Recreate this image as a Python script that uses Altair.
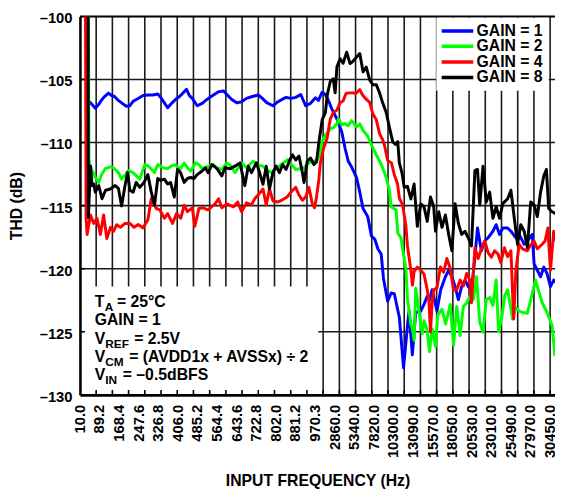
import altair as alt
import pandas as pd

FONT = "Liberation Sans"

SERIES = ["GAIN = 1", "GAIN = 2", "GAIN = 4", "GAIN = 8"]
COLORS = ["#0000ff", "#00ff00", "#ff0000", "#000000"]

# x-axis tick labels (Hz), spread evenly over the 29 grid columns
X_LABELS = ["10.0", "89.2", "168.4", "247.6", "326.8", "406.0", "485.2", "564.4",
            "643.6", "722.8", "802.0", "881.2", "970.3", "2860.0", "5340.0", "7820.0",
            "10300.0", "13090.0", "15570.0", "18050.0", "20530.0", "23010.0",
            "25490.0", "27970.0", "30450.0"]
N_COLS = 29
GRID_X = list(range(1, N_COLS + 1))
GRID_Y = [-105, -110, -115, -120, -125]
Y_TICKS = [-130, -125, -120, -115, -110, -105, -100]
X_TITLE = "INPUT FREQUENCY (Hz)"
Y_TITLE = "THD (dB)"

# (grid position, THD dB)
gain1 = [(0.59,-106.73),(0.73,-106.97),(0.95,-107.28),(1.16,-106.97),(1.36,-106.58),(1.52,-106.35),
 (1.76,-106.08),(1.95,-106.27),(2.13,-106.35),(2.37,-106.66),(2.61,-106.89),(2.86,-107.12),
 (3.08,-107.08),(3.28,-106.73),(3.59,-106.50),(3.89,-106.27),(4.19,-106.23),(4.50,-106.23),
 (4.80,-106.15),(4.98,-106.42),(5.23,-106.89),(5.41,-107.24),(5.65,-106.89),(5.90,-106.58),
 (6.14,-106.35),(6.38,-106.04),(6.57,-105.77),(6.75,-106.27),(6.93,-106.50),(7.23,-107.08),
 (7.54,-106.89),(7.84,-106.58),(8.09,-106.35),(8.33,-106.15),(8.57,-105.96),(8.86,-105.92),
 (9.12,-106.27),(9.36,-106.58),(9.67,-106.85),(9.97,-106.77),(10.27,-106.50),(10.64,-106.35),
 (11.00,-106.23),(11.25,-106.50),(11.49,-106.81),(11.90,-107.08),(12.16,-106.81),(12.46,-106.58),
 (12.71,-106.42),(13.01,-106.50),(13.31,-106.42),(13.62,-106.19),(13.92,-107.08),(14.22,-106.89),
 (14.53,-106.45),(14.71,-106.66),(14.94,-106.01),(15.14,-106.19),(15.34,-106.71),(15.54,-107.35),
 (15.85,-108.13),(16.15,-109.16),(16.35,-110.45),(16.55,-111.48),(16.78,-112.00),(17.06,-112.77),
 (17.26,-113.93),(17.46,-115.22),(17.75,-115.87),(17.98,-117.42),(18.18,-117.65),(18.38,-118.44),
 (18.58,-118.83),(18.72,-120.77),(18.98,-122.58),(19.19,-121.93),(19.39,-121.98),(19.70,-123.86),
 (19.96,-127.86),(20.20,-124.51),(20.30,-123.35),(20.50,-126.83),(20.71,-123.47),(21.02,-123.35),
 (21.22,-122.83),(21.42,-122.19),(21.58,-122.45),(21.72,-121.67),(22.02,-123.35),(22.25,-121.67),
 (22.54,-120.64),(22.74,-120.12),(22.94,-120.64),(23.14,-121.42),(23.34,-122.45),(23.54,-121.42),
 (23.75,-120.90),(23.95,-121.42),(24.15,-121.67),(24.36,-119.09),(24.52,-116.77),(24.76,-118.58),
 (24.97,-117.80),(25.17,-117.55),(25.47,-117.03),(25.67,-116.51),(25.88,-117.28),(26.08,-116.77),
 (26.38,-116.77),(26.58,-117.03),(26.89,-117.55),(27.09,-117.28),(27.40,-118.06),(27.60,-117.80),
 (27.90,-117.28),(28.01,-119.61),(28.21,-120.12),(28.41,-120.64),(28.61,-119.87),(28.81,-120.38),
 (29.02,-121.42),(29.22,-120.90),(29.36,-121.05)]

gain2 = [(0.52,-95.0),(0.55,-111.2),(0.58,-111.61),(0.75,-112.23),(0.95,-112.77),(1.16,-113.16),
 (1.34,-112.54),(1.56,-112.07),(1.87,-111.92),(2.07,-112.00),(2.37,-112.38),(2.57,-112.90),
 (2.80,-112.54),(2.98,-112.23),(3.28,-112.38),(3.69,-112.90),(3.99,-111.76),(4.19,-111.84),
 (4.60,-112.38),(4.80,-111.74),(5.11,-112.00),(5.41,-112.07),(5.61,-111.87),(5.84,-111.76),
 (6.02,-111.92),(6.20,-112.07),(6.43,-111.61),(6.63,-112.00),(6.83,-112.25),(7.13,-111.61),
 (7.36,-111.76),(7.54,-112.07),(7.95,-111.87),(8.21,-111.76),(8.45,-112.00),(8.75,-112.13),
 (9.06,-111.61),(9.30,-111.84),(9.56,-112.38),(9.97,-111.61),(10.27,-112.00),(10.68,-111.48),
 (11.00,-111.84),(11.25,-111.84),(11.49,-112.13),(11.79,-112.38),(12.10,-112.07),(12.40,-111.76),
 (12.81,-111.35),(13.11,-111.84),(13.31,-112.13),(13.56,-112.07),(13.82,-112.00),(14.10,-111.61),
 (14.43,-111.48),(14.65,-111.38),(14.80,-110.84),(14.94,-109.93),(15.14,-109.42),(15.44,-108.90),
 (15.64,-108.82),(15.85,-108.51),(15.95,-108.13),(16.15,-108.59),(16.35,-108.51),(16.55,-108.67),
 (16.76,-108.26),(17.06,-108.77),(17.26,-108.51),(17.46,-109.03),(17.77,-109.54),(17.98,-110.19),
 (18.28,-110.97),(18.59,-111.74),(18.89,-112.77),(19.09,-113.80),(19.19,-115.09),(19.29,-115.17),
 (19.50,-115.35),(19.60,-117.16),(19.80,-117.55),(19.94,-118.71),(20.10,-119.99),(20.20,-122.37),
 (20.41,-124.38),(20.51,-124.77),(20.61,-125.67),(20.71,-121.54),(20.91,-123.35),(21.11,-125.16),
 (21.22,-124.13),(21.40,-124.77),(21.56,-126.57),(21.72,-124.77),(21.93,-126.16),(22.07,-123.68),
 (22.33,-123.22),(22.55,-124.38),(22.84,-122.83),(23.04,-126.06),(23.24,-122.99),(23.45,-125.29),
 (23.65,-122.99),(23.85,-122.71),(24.05,-122.19),(24.26,-122.45),(24.46,-120.64),(24.66,-124.25),
 (24.86,-125.02),(25.06,-122.45),(25.29,-122.29),(25.47,-122.91),(25.67,-120.90),(25.82,-125.02),
 (26.02,-123.84),(26.20,-122.14),(26.38,-121.67),(26.69,-123.99),(26.87,-123.07),(27.11,-123.37),
 (27.29,-123.47),(27.60,-123.53),(27.90,-121.93),(28.10,-120.90),(28.31,-121.83),(28.51,-122.70),
 (28.81,-123.47),(29.12,-124.51),(29.30,-126.94)]

gain4 = [(0.33,-95.0),(0.38,-116.0),(0.44,-117.28),(0.65,-115.74),(0.85,-116.41),(1.05,-116.00),
 (1.26,-117.28),(1.46,-115.74),(1.66,-117.61),(1.88,-116.72),(2.07,-117.03),(2.27,-116.51),
 (2.49,-116.72),(2.78,-116.41),(3.08,-116.41),(3.34,-116.72),(3.59,-116.49),(3.89,-116.77),
 (4.19,-116.12),(4.40,-114.45),(4.70,-115.22),(4.92,-115.33),(5.21,-116.00),(5.41,-115.63),
 (5.71,-116.41),(5.96,-115.63),(6.22,-116.00),(6.43,-114.96),(6.63,-115.48),(6.93,-115.17),
 (7.08,-116.64),(7.34,-115.22),(7.60,-115.17),(7.90,-115.33),(8.35,-114.84),(8.55,-114.45),
 (8.75,-115.17),(9.06,-114.86),(9.47,-115.09),(9.73,-114.71),(9.97,-115.48),(10.27,-114.78),
 (10.58,-114.94),(10.78,-114.45),(11.03,-114.09),(11.29,-113.68),(11.49,-114.94),(11.69,-113.68),
 (11.91,-114.63),(12.20,-114.71),(12.46,-114.56),(12.77,-114.32),(13.11,-113.78),(13.31,-113.55),
 (13.51,-114.16),(13.72,-114.57),(13.92,-114.32),(14.12,-113.55),(14.33,-114.84),(14.47,-115.17),
 (14.59,-114.32),(14.73,-113.00),(14.83,-111.61),(15.03,-110.45),(15.24,-109.68),(15.44,-108.13),
 (15.64,-107.61),(15.85,-107.43),(16.05,-106.83),(16.23,-106.71),(16.41,-106.11),(16.60,-106.06),
 (16.84,-106.06),(17.02,-106.11),(17.26,-105.80),(17.45,-106.27),(17.67,-106.58),(17.87,-106.81),
 (18.07,-107.74),(18.28,-108.20),(18.48,-109.29),(18.66,-109.75),(18.78,-110.19),(18.98,-111.42),
 (19.21,-111.61),(19.39,-112.54),(19.59,-113.29),(19.70,-114.40),(19.90,-114.94),(20.10,-116.56),
 (20.20,-118.19),(20.41,-120.12),(20.51,-121.29),(20.61,-120.20),(20.81,-119.87),(21.02,-120.12),
 (21.22,-120.43),(21.42,-121.67),(21.52,-122.45),(21.62,-125.02),(21.72,-122.70),(21.82,-121.67),
 (22.02,-121.52),(22.23,-119.87),(22.43,-120.28),(22.63,-119.19),(22.84,-119.99),(23.04,-121.67),
 (23.24,-121.67),(23.45,-120.90),(23.65,-121.37),(23.85,-120.38),(24.05,-120.90),(24.15,-122.70),
 (24.36,-118.33),(24.56,-119.19),(24.76,-118.42),(24.97,-117.80),(25.17,-118.73),(25.37,-119.09),
 (25.57,-118.58),(25.78,-118.83),(25.96,-119.50),(26.18,-118.33),(26.38,-119.04),(26.58,-118.58),
 (26.75,-123.99),(26.89,-120.12),(27.09,-118.06),(27.29,-118.42),(27.60,-118.58),(27.80,-118.11),
 (28.01,-117.80),(28.21,-118.42),(28.51,-118.06),(28.69,-117.80),(28.86,-116.77),(29.02,-120.12),
 (29.22,-117.03),(29.36,-117.80)]

gain8 = [(0.50,-95.0),(0.52,-115.94),(0.65,-111.87),(0.75,-113.41),(0.85,-113.29),(0.95,-113.93),
 (1.16,-113.41),(1.36,-114.45),(1.58,-113.78),(1.87,-113.68),(2.17,-113.41),(2.37,-113.62),
 (2.57,-115.02),(2.78,-113.41),(2.94,-112.38),(3.08,-113.78),(3.28,-113.93),(3.47,-113.16),
 (3.69,-113.55),(3.95,-113.16),(4.19,-112.54),(4.40,-113.93),(4.60,-114.96),(4.80,-112.85),
 (4.98,-113.00),(5.21,-112.90),(5.41,-113.29),(5.59,-113.16),(5.82,-114.32),(6.02,-112.13),
 (6.20,-112.38),(6.43,-113.16),(6.63,-112.85),(6.83,-112.77),(7.03,-112.85),(7.23,-112.54),
 (7.54,-112.25),(7.74,-112.00),(7.90,-112.38),(8.15,-111.74),(8.45,-112.07),(8.75,-112.64),
 (8.95,-112.00),(9.26,-112.07),(9.56,-111.87),(9.87,-111.61),(10.17,-113.41),(10.38,-111.87),
 (10.58,-112.38),(10.88,-111.61),(11.08,-112.38),(11.29,-113.31),(11.49,-111.87),(11.69,-113.68),
 (11.90,-112.38),(12.10,-111.87),(12.30,-112.38),(12.50,-111.74),(12.71,-112.13),(12.91,-111.48),
 (13.11,-110.97),(13.31,-111.38),(13.51,-111.07),(13.72,-112.38),(13.82,-113.16),(14.02,-111.48),
 (14.22,-111.22),(14.43,-111.74),(14.59,-111.53),(14.73,-110.06),(14.94,-108.20),(15.14,-107.61),
 (15.26,-106.19),(15.44,-105.16),(15.62,-104.95),(15.74,-106.06),(15.85,-104.00),(16.05,-103.35),
 (16.23,-103.72),(16.45,-102.84),(16.66,-103.74),(16.84,-103.56),(17.06,-103.23),(17.26,-102.94),
 (17.46,-104.39),(17.66,-104.02),(17.87,-105.03),(18.07,-105.42),(18.28,-105.42),(18.48,-106.06),
 (18.66,-106.81),(18.89,-107.61),(19.09,-108.82),(19.29,-109.93),(19.45,-110.14),(19.60,-109.93),
 (19.70,-111.61),(19.86,-112.38),(20.00,-113.55),(20.20,-113.47),(20.41,-114.47),(20.61,-113.29),
 (20.81,-116.64),(21.02,-114.86),(21.22,-115.09),(21.42,-116.25),(21.62,-114.32),(21.82,-115.09),
 (21.93,-117.03),(22.13,-115.48),(22.33,-116.72),(22.54,-115.74),(22.74,-117.28),(22.94,-118.58),
 (23.14,-114.84),(23.34,-116.41),(23.54,-117.28),(23.75,-117.03),(23.95,-117.55),(24.15,-118.19),
 (24.36,-112.23),(24.52,-112.13),(24.66,-114.96),(24.86,-111.87),(25.06,-114.71),(25.27,-113.93),
 (25.47,-116.00),(25.67,-115.09),(25.88,-116.00),(26.08,-114.84),(26.38,-114.45),(26.58,-113.78),
 (26.79,-116.00),(26.99,-118.06),(27.19,-116.51),(27.40,-117.03),(27.60,-118.33),(27.80,-114.71),
 (28.01,-114.94),(28.21,-115.87),(28.41,-113.93),(28.61,-112.64),(28.77,-112.13),(28.91,-115.22),
 (29.12,-115.48),(29.36,-115.64)]

# annotation box text: (main, subscript, rest, baseline dB, subscript dx, rest dx)
NOTE_LINES = [("T", "A", "= 25°C", -123.0, 10.2, 22.5),
              ("GAIN = 1", "", "", -124.5, 0, 0),
              ("V", "REF", "= 2.5V", -125.95, 10.7, 40.0),
              ("V", "CM", "= (AVDD1x + AVSSx) ÷ 2", -127.4, 10.7, 35.0),
              ("V", "IN", "= –0.5dBFS", -128.86, 10.7, 28.5)]
LEGEND_ROWS = [-101.15, -102.37, -103.62, -104.84]

rows = []
for name, pts in zip(SERIES, [gain1, gain2, gain4, gain8]):
    for u, db in pts:
        rows.append({"series": name, "u": u, "thd": db})
df = pd.DataFrame(rows)

one = pd.DataFrame({"k": [0]})
color_scale = alt.Scale(domain=SERIES, range=COLORS)
x_scale = alt.Scale(domain=[0, 29.3], nice=False, zero=False)
y_scale = alt.Scale(domain=[-130, -100], nice=False, zero=False)

label_pos = [i * N_COLS / (len(X_LABELS) - 1) for i in range(len(X_LABELS))]
xlab_df = pd.DataFrame({"pos": label_pos, "lab": X_LABELS})

X_AXIS = alt.Axis(labels=False, ticks=False, grid=False, domainColor="black", domainWidth=2.6,
                  title=X_TITLE, titleFont=FONT, titleFontSize=16,
                  titleFontWeight="bold", titleColor="black", titlePadding=79, zindex=1)
Y_AXIS = alt.Axis(values=Y_TICKS, labelExpr="'–' + abs(datum.value)",
                  labelFont=FONT, labelFontSize=15, labelFontWeight="bold", labelColor="black",
                  labelPadding=8, labelOffset=1.5, labelOverlap=False, ticks=False, grid=False,
                  domainColor="black", domainWidth=2.6,
                  title=Y_TITLE, titleFont=FONT, titleFontSize=16, titleFontWeight="bold",
                  titleColor="black", titlePadding=15, zindex=1)

grid_v = alt.Chart(pd.DataFrame({"g": GRID_X})).mark_rule(color="#1a1a1a", strokeWidth=1.6).encode(
    x=alt.X("g:Q", axis=X_AXIS))
grid_h = alt.Chart(pd.DataFrame({"h": GRID_Y})).mark_rule(color="#1a1a1a", strokeWidth=1.6).encode(
    y=alt.Y("h:Q", axis=Y_AXIS))
top_border = alt.Chart(one).mark_rule(color="black", strokeWidth=2).encode(y=alt.datum(-100))

lines = alt.Chart(df).mark_line(strokeWidth=3, clip=True, strokeJoin="round").encode(
    x=alt.X("u:Q", scale=x_scale, axis=X_AXIS),
    y=alt.Y("thd:Q", scale=y_scale, axis=Y_AXIS),
    color=alt.Color("series:N", scale=color_scale, legend=None),
    order=alt.Order("u:Q"),
)

# x tick labels (rotated, below the axis)
x_labels = alt.Chart(xlab_df).mark_text(angle=270, align="right", baseline="middle", dx=-10,
                                        font=FONT, fontSize=15, fontWeight="bold", color="black").encode(
    x=alt.X("pos:Q", axis=X_AXIS), y=alt.datum(-130), text="lab:N")

# legend
legend_box = alt.Chart(one).mark_rect(color="white").encode(
    x=alt.datum(21.98), x2=alt.datum(28.92), y=alt.datum(-100.1), y2=alt.datum(-105.9))
leg_df = pd.DataFrame({"series": SERIES, "row": LEGEND_ROWS})
legend_lines = alt.Chart(leg_df).mark_rule(strokeWidth=3.5).encode(
    x=alt.datum(22.31), x2=alt.datum(24.26), y=alt.Y("row:Q", axis=Y_AXIS),
    color=alt.Color("series:N", scale=color_scale, legend=None))
legend_text = alt.Chart(leg_df).mark_text(align="left", baseline="middle", font=FONT, fontSize=16,
                                          fontWeight="bold", color="black").encode(
    x=alt.datum(24.46), y=alt.Y("row:Q", axis=Y_AXIS), text="series:N")

# conditions box
note_box = alt.Chart(one).mark_rect(color="white").encode(
    x=alt.datum(0.08), x2=alt.datum(14.7), y=alt.datum(-129.9), y2=alt.datum(-121.41))

ticks_b = alt.Chart(pd.DataFrame({"g": GRID_X})).mark_rule(color="black", strokeWidth=1.6, y2Offset=-5).encode(
    x=alt.X("g:Q", axis=X_AXIS), y=alt.datum(-130), y2=alt.datum(-130))
ticks_l = alt.Chart(pd.DataFrame({"h": GRID_Y})).mark_rule(color="black", strokeWidth=1.6, x2Offset=5).encode(
    y=alt.Y("h:Q", axis=Y_AXIS), x=alt.datum(0), x2=alt.datum(0))

note_layers = []
for main, sub, rest, db, sdx, rdx in NOTE_LINES:
    note_layers.append(alt.Chart(one).mark_text(text=main, align="left", baseline="alphabetic", font=FONT,
                                                fontSize=16, fontWeight="bold", color="black").encode(
        x=alt.datum(0.91), y=alt.datum(db)))
    if sub:
        note_layers.append(alt.Chart(one).mark_text(text=sub, align="left", baseline="alphabetic", font=FONT,
                                                    fontSize=12, fontWeight="bold", color="black",
                                                    dx=sdx, dy=4).encode(
            x=alt.datum(0.91), y=alt.datum(db)))
        note_layers.append(alt.Chart(one).mark_text(text=rest, align="left", baseline="alphabetic", font=FONT,
                                                    fontSize=16, fontWeight="bold", color="black",
                                                    dx=rdx).encode(
            x=alt.datum(0.91), y=alt.datum(db)))

chart = alt.layer(
    grid_v, grid_h, top_border, lines, legend_box, legend_lines, legend_text,
    note_box, ticks_b, ticks_l, x_labels, *note_layers
).properties(
    width=482, height=384,
    autosize=alt.AutoSizeParams(type="none"),
    padding={"left": 73, "top": 5, "right": 0, "bottom": 94},
).configure_view(stroke=None).configure(background="white")

chart.save("out.html", embed_options={"renderer": "svg", "actions": False})
